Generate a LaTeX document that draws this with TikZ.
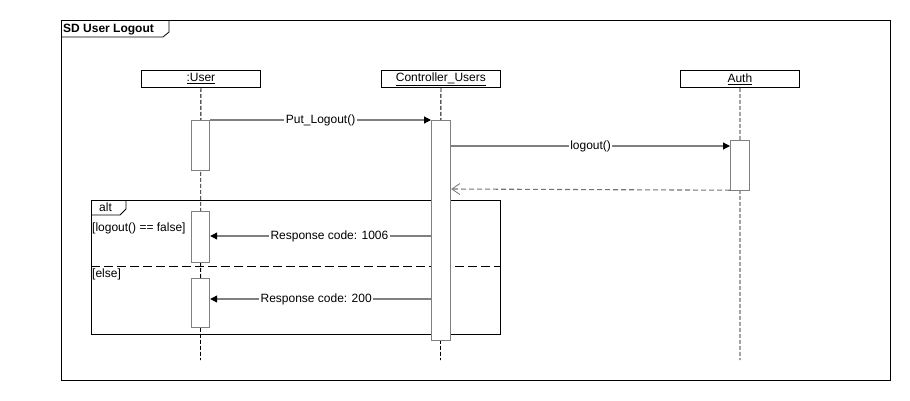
\documentclass[tikz,border=0pt]{standalone}
\usepackage{fontspec}
\setmainfont{Liberation Sans}
\usetikzlibrary{arrows.meta,calc}
\begin{document}
\begin{tikzpicture}[x=1pt,y=-1pt,
  every node/.style={font=\fontsize{12}{14}\selectfont},
  head/.style={draw=black,line width=0.8pt,fill=white,minimum width=119pt,minimum height=17pt,inner sep=0pt,anchor=north west},
  act/.style={draw=black!50,line width=1.2pt,fill=white,minimum width=18pt,inner sep=0pt,anchor=north west},
  life/.style={draw=black,line width=0.8pt,dash pattern=on 4pt off 2pt},
  msg/.style={draw=black!50,line width=1.1pt,-{Triangle[length=7pt,width=7pt,black]}},
  ret/.style={draw=black!55,line width=1.1pt,dash pattern=on 5pt off 3pt,-{Straight Barb[length=8pt,width=11pt,line width=0.8pt]}},
  lbl/.style={fill=white,inner sep=1.5pt},
  frm/.style={draw=black,line width=0.8pt}
]
\useasboundingbox (0,0) rectangle (910,400);
% outer frame
\node[frm,minimum width=829pt,minimum height=360pt,inner sep=0pt,anchor=north west] (frame) at (61,20) {};
\node[anchor=west,font=\fontsize{12}{14}\selectfont\bfseries,inner sep=0pt] (title) at (63,30) {SD User Logout};
\draw[frm] (61,37) -- (163,37) -- (169,32) -- (169,20);
% lifeline heads
\node[head] (user) at (141,70) {\underline{:User}};
\node[head] (ctrl) at (381,70) {\underline{Controller\_Users}};
\node[head] (auth) at (680,70) {\underline{Auth}};
\coordinate (userend) at (200.5,360);
\coordinate (ctrlend) at (440.5,360);
\coordinate (authend) at (740,360);
\draw[life] (user.south) -- (userend);
\draw[life] (ctrl.south) -- (ctrlend);
\draw[life] (auth.south) -- (authend);
% alt frame
\node[frm,minimum width=409pt,minimum height=134pt,inner sep=0pt,anchor=north west] (alt) at (91,200) {};
\draw[frm] (91,215) -- (120,215) -- (126,209) -- (126,200);
\node[anchor=west,inner sep=0pt] (altlbl) at (99,207.5) {alt};
\draw[frm,dash pattern=on 9pt off 4pt] (91,266) -- (500,266);
\node[anchor=west,inner sep=0pt] (g1) at (92,228) {[logout() == false]};
\node[anchor=west,inner sep=0pt] (g2) at (92,274) {[else]};
% activations
\node[act,minimum height=50pt] (ua1) at (191,120) {};
\node[act,minimum height=220pt,minimum width=19pt] (ca) at (431,120) {};
\node[act,minimum height=50pt,minimum width=19pt] (aa) at (730,140) {};
\node[act,minimum height=51pt] (ua2) at (191,211) {};
\node[act,minimum height=49pt] (ua3) at (191,278) {};
% messages
\draw[msg] (ua1.north east) -- node[lbl] {Put\_Logout()} (ca.north west);
\coordinate (m2s) at ($(ca.north east)+(0,26)$);
\coordinate (m2e) at ($(aa.north west)+(0,6)$);
\draw[msg] (m2s) -- node[lbl,pos=0.5] {logout()} (m2e);
\coordinate (r1s) at ($(aa.south west)+(0,-1)$);
\coordinate (r1e) at ($(ca.north east)+(0,69)$);
\draw[ret] (r1s) -- (r1e);
\coordinate (m3s) at ($(ca.north west)+(0,116)$);
\coordinate (m3e) at ($(ua2.north east)+(0,25)$);
\draw[msg] (m3s) -- node[lbl,pos=0.46] {Response code: 1006} (m3e);
\coordinate (m4s) at ($(ca.north west)+(0,179)$);
\coordinate (m4e) at ($(ua3.north east)+(0,21)$);
\draw[msg] (m4s) -- node[lbl,pos=0.52] {Response code: 200} (m4e);
\end{tikzpicture}
\end{document}
